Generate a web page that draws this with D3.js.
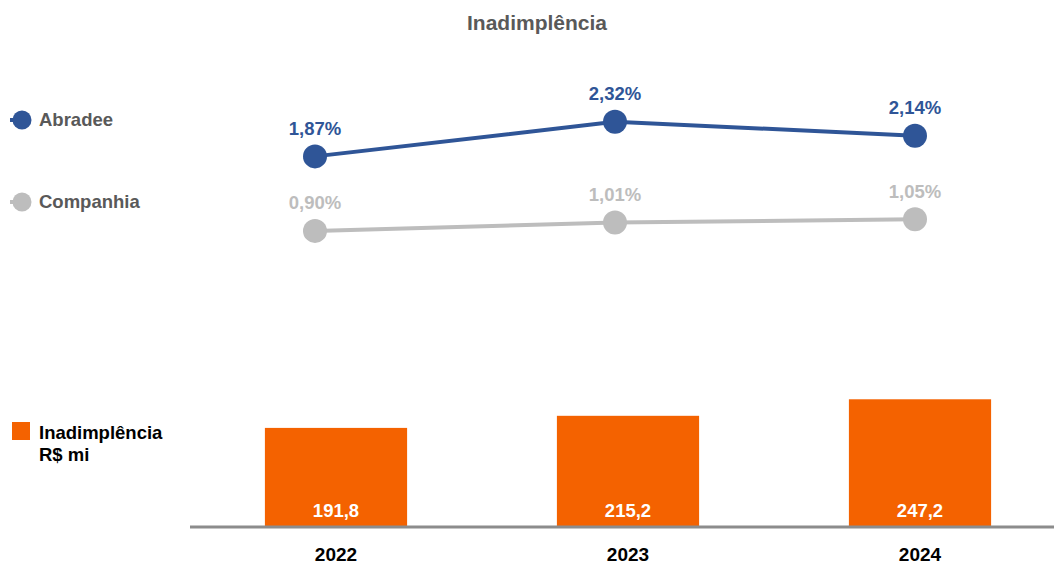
<!DOCTYPE html>
<html><head><meta charset="utf-8">
<script src="https://cdn.jsdelivr.net/npm/d3@7"></script>
<style>
body{margin:0;background:#fff;}
text{font-family:"Liberation Sans",Arial,sans-serif;font-weight:bold;}
.narrow{font-family:"Liberation Sans Narrow","Liberation Sans",Arial,sans-serif;}
</style></head>
<body>
<svg id="c" width="1054" height="564"></svg>
<script>
const years = ["2022","2023","2024"];
const abradee = [1.87, 2.32, 2.14];
const companhia = [0.90, 1.01, 1.05];
const inadimplencia = [191.8, 215.2, 247.2];
const title = "Inadimplência";

const fmtPct = v => d3.format(".2f")(v).replace(".", ",") + "%";
const fmtVal = v => d3.format(".1f")(v).replace(".", ",");

const svg = d3.select("#c");
const blue = "#2F5597", grey = "#BDBDBD", orange = "#F46200";

svg.append("text").attr("x", 537).attr("y", 29.5).attr("text-anchor", "middle")
  .attr("font-size", 21).attr("fill", "#595959").text(title);

// Line chart
const xp = d3.scalePoint().domain(years).range([315, 915]);
const yl = d3.scaleLinear().domain([0, 2.5]).range([300, 108]);

function series(vals, color) {
  const g = svg.append("g");
  g.append("path").datum(vals)
    .attr("d", d3.line().x((d, i) => xp(years[i])).y(d => yl(d)))
    .attr("fill", "none").attr("stroke", color).attr("stroke-width", 4);
  g.selectAll("circle").data(vals).join("circle")
    .attr("cx", (d, i) => xp(years[i])).attr("cy", d => yl(d)).attr("r", 12)
    .attr("fill", color);
  g.selectAll("text").data(vals).join("text").attr("class", "narrow")
    .attr("x", (d, i) => xp(years[i])).attr("y", d => yl(d) - 21.5)
    .attr("text-anchor", "middle").attr("font-size", 18.5).attr("fill", color)
    .text(fmtPct);
}
series(abradee, blue);
series(companhia, grey);

// Legend for lines
function lineLegend(y, color, label) {
  svg.append("line").attr("x1", 10).attr("x2", 20).attr("y1", y).attr("y2", y)
    .attr("stroke", color).attr("stroke-width", 4);
  svg.append("circle").attr("cx", 22).attr("cy", y).attr("r", 9.5).attr("fill", color);
  svg.append("text").attr("x", 39).attr("y", y + 5.5).attr("font-size", 18.5)
    .attr("fill", "#595959").text(label);
}
lineLegend(120, blue, "Abradee");
lineLegend(202, grey, "Companhia");

// Bars
const xb = d3.scaleBand().domain(years).range([190, 1066]).paddingInner(0.513).paddingOuter(0.2565);
const yb = d3.scaleLinear().domain([0, 300]).range([527, 372]);

svg.selectAll("rect.bar").data(inadimplencia).join("rect").attr("class", "bar")
  .attr("x", (d, i) => xb(years[i])).attr("width", xb.bandwidth())
  .attr("y", d => yb(d)).attr("height", d => yb(0) - yb(d)).attr("fill", orange);

svg.selectAll("text.bv").data(inadimplencia).join("text").attr("class", "bv narrow")
  .attr("x", (d, i) => xb(years[i]) + xb.bandwidth() / 2).attr("y", 517)
  .attr("text-anchor", "middle").attr("font-size", 18.5).attr("fill", "#fff").text(fmtVal);

const axis = d3.axisBottom(xb).tickSize(0).tickPadding(20.5);
const ag = svg.append("g").attr("transform", "translate(0,527)").call(axis);
ag.select(".domain").attr("d", "M190,0H1054").attr("stroke", "#8C8C8C").attr("stroke-width", 3);
ag.selectAll("text").attr("class", "narrow").attr("font-size", 19).attr("fill", "#000")
  .attr("font-family", null).attr("font-weight", "bold").attr("dy", "0.71em");

// Bar legend
svg.append("rect").attr("x", 12).attr("y", 422).attr("width", 18).attr("height", 18).attr("fill", orange);
svg.append("text").attr("x", 39).attr("y", 438.5).attr("font-size", 18.5).attr("fill", "#000").text("Inadimplência");
svg.append("text").attr("x", 39).attr("y", 460.5).attr("font-size", 18.5).attr("fill", "#000").text("R$ mi");
</script>
</body></html>
